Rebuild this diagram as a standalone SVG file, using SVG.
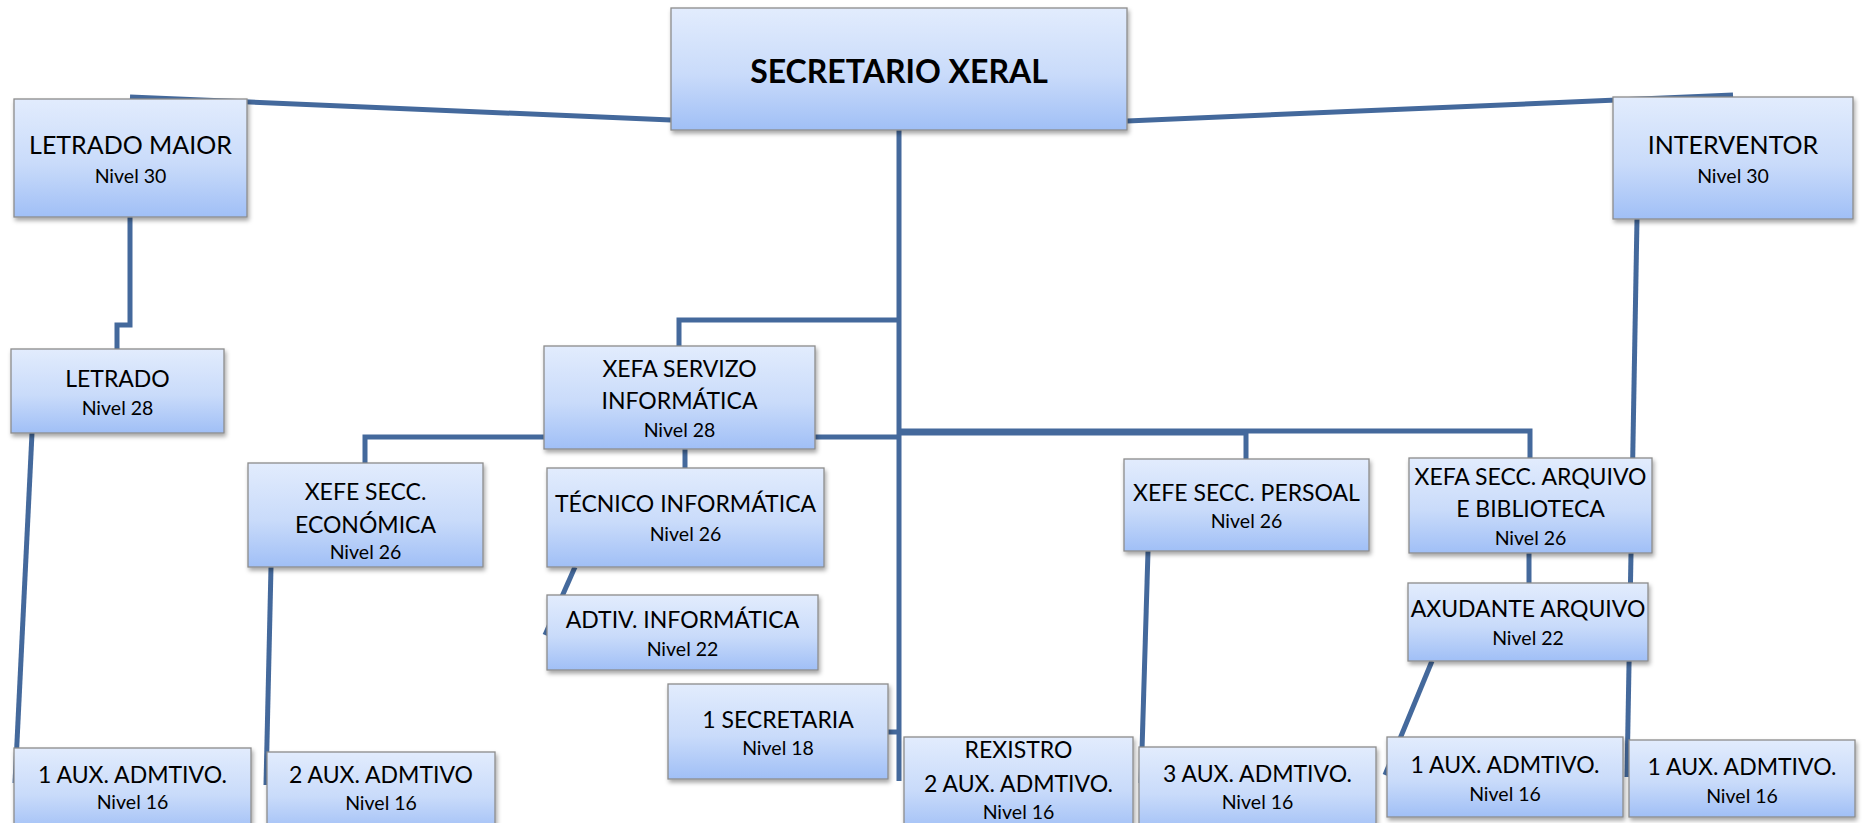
<svg xmlns="http://www.w3.org/2000/svg" width="1865" height="823" viewBox="0 0 1865 823">
<defs>
<linearGradient id="g" x1="0" y1="0" x2="0" y2="1">
<stop offset="0" stop-color="#E2ECFD"/>
<stop offset="0.55" stop-color="#C9DBFA"/>
<stop offset="1" stop-color="#A0BFF6"/>
</linearGradient>
<filter id="sh" x="-10%" y="-10%" width="125%" height="130%">
<feDropShadow dx="1.5" dy="3" stdDeviation="2" flood-color="#000" flood-opacity="0.35"/>
</filter>
</defs>
<style>
.box{fill:url(#g);stroke:#8C8C8C;stroke-width:1.3;filter:url(#sh)}
.t{font-family:Lato,"Liberation Sans",sans-serif;font-size:23px;fill:#000;text-anchor:middle}
.n{font-size:19.5px}
.l{font-size:25px}
.b{font-weight:bold;font-size:32px}
.c{stroke:#44699C;stroke-width:5;fill:none}
</style>
<rect width="1865" height="823" fill="#fff"/>
<g id="connectors">
<path class="c" d="M130,97 L671,120"/>
<path class="c" d="M1127,121 L1733,95"/>
<path class="c" d="M899,130 V781"/>
<path class="c" d="M899,320 H679 V346"/>
<path class="c" d="M899,437 H365 V463"/>
<path class="c" d="M899,433 H1246 V459"/>
<path class="c" d="M899,431 H1530 V458"/>
<path class="c" d="M888,732 H899"/>
<path class="c" d="M130,217 V325 H117 V349"/>
<path class="c" d="M32,433 L15,783"/>
<path class="c" d="M271,567 L266,785"/>
<path class="c" d="M685,449 V468"/>
<path class="c" d="M575,567 L545,635"/>
<path class="c" d="M1148,551 L1141,783"/>
<path class="c" d="M1529,553 V583"/>
<path class="c" d="M1432,661 L1385,775"/>
<path class="c" d="M1637,219 L1627,777"/>
</g>
<g id="secretario-xeral"><rect class="box" x="671" y="8" width="456" height="122"/><text class="t b" x="899" y="83">SECRETARIO XERAL</text></g>
<g id="letrado-maior"><rect class="box" x="14" y="99" width="233" height="118"/><text class="t l" x="130.5" y="154">LETRADO MAIOR</text><text class="t n" x="130.5" y="183">Nivel 30</text></g>
<g id="interventor"><rect class="box" x="1613" y="97" width="240" height="122"/><text class="t l" x="1733" y="154">INTERVENTOR</text><text class="t n" x="1733" y="183">Nivel 30</text></g>
<g id="letrado"><rect class="box" x="11" y="349" width="213" height="84"/><text class="t" x="117.5" y="387">LETRADO</text><text class="t n" x="117.5" y="415">Nivel 28</text></g>
<g id="xefa-servizo-informatica"><rect class="box" x="544" y="346" width="271" height="103"/><text class="t" x="679.5" y="377">XEFA SERVIZO</text><text class="t" x="679.5" y="409">INFORMÁTICA</text><text class="t n" x="679.5" y="437">Nivel 28</text></g>
<g id="tecnico-informatica"><rect class="box" x="547" y="468" width="277" height="99"/><text class="t" x="685.5" y="512">TÉCNICO INFORMÁTICA</text><text class="t n" x="685.5" y="541">Nivel 26</text></g>
<g id="adtiv-informatica"><rect class="box" x="547" y="595" width="271" height="75"/><text class="t" x="682.5" y="628">ADTIV. INFORMÁTICA</text><text class="t n" x="682.5" y="656">Nivel 22</text></g>
<g id="secretaria"><rect class="box" x="668" y="684" width="220" height="95"/><text class="t" x="778" y="728">1 SECRETARIA</text><text class="t n" x="778" y="755">Nivel 18</text></g>
<g id="xefe-economica"><rect class="box" x="248" y="463" width="235" height="104"/><text class="t" x="365.5" y="500">XEFE SECC.</text><text class="t" x="365.5" y="533">ECONÓMICA</text><text class="t n" x="365.5" y="559">Nivel 26</text></g>
<g id="xefe-persoal"><rect class="box" x="1124" y="459" width="245" height="92"/><text class="t" x="1246.5" y="501">XEFE SECC. PERSOAL</text><text class="t n" x="1246.5" y="528">Nivel 26</text></g>
<g id="xefa-arquivo"><rect class="box" x="1409" y="458" width="243" height="95"/><text class="t" x="1530.5" y="485">XEFA SECC. ARQUIVO</text><text class="t" x="1530.5" y="517">E BIBLIOTECA</text><text class="t n" x="1530.5" y="545">Nivel 26</text></g>
<g id="axudante-arquivo"><rect class="box" x="1408" y="583" width="240" height="78"/><text class="t" x="1528" y="617">AXUDANTE ARQUIVO</text><text class="t n" x="1528" y="645">Nivel 22</text></g>
<g id="aux-letrado"><rect class="box" x="14" y="748" width="237" height="85"/><text class="t" x="132.5" y="783">1 AUX. ADMTIVO.</text><text class="t n" x="132.5" y="809">Nivel 16</text></g>
<g id="aux-economica"><rect class="box" x="267" y="752" width="228" height="81"/><text class="t" x="381" y="783">2 AUX. ADMTIVO</text><text class="t n" x="381" y="810">Nivel 16</text></g>
<g id="rexistro"><rect class="box" x="904" y="737" width="229" height="96"/><text class="t" x="1018.5" y="758">REXISTRO</text><text class="t" x="1018.5" y="792">2 AUX. ADMTIVO.</text><text class="t n" x="1018.5" y="819">Nivel 16</text></g>
<g id="aux-persoal"><rect class="box" x="1139" y="747" width="237" height="86"/><text class="t" x="1257.5" y="782">3 AUX. ADMTIVO.</text><text class="t n" x="1257.5" y="809">Nivel 16</text></g>
<g id="aux-arquivo"><rect class="box" x="1387" y="737" width="236" height="80"/><text class="t" x="1505" y="773">1 AUX. ADMTIVO.</text><text class="t n" x="1505" y="801">Nivel 16</text></g>
<g id="aux-interventor"><rect class="box" x="1629" y="740" width="226" height="77"/><text class="t" x="1742" y="775">1 AUX. ADMTIVO.</text><text class="t n" x="1742" y="803">Nivel 16</text></g>
</svg>
